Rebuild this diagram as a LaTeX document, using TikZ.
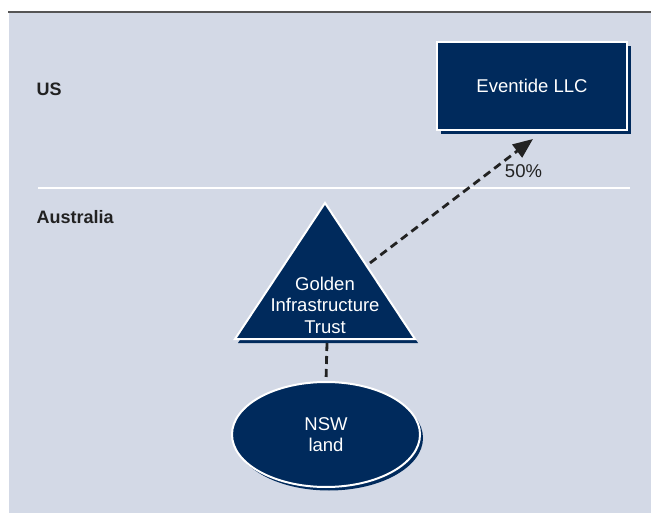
\documentclass[tikz,border=0pt]{standalone}
\usepackage{fontspec}
\setmainfont{Liberation Sans}
\usetikzlibrary{arrows.meta,shapes.geometric}
\definecolor{navy}{HTML}{002A5C}
\definecolor{panel}{HTML}{D3D9E6}
\definecolor{topline}{HTML}{555555}
\definecolor{ink}{HTML}{222222}
\tikzset{
  shapebox/.style={fill=navy, draw=white, line width=2pt},
  shadowfill/.style={fill=navy, draw=none},
  wtext/.style={text=white, align=center, font=\fontsize{18.5}{21.5}\selectfont},
  regionlabel/.style={anchor=base west, text=ink, font=\bfseries\fontsize{18}{21.5}\selectfont, inner sep=0pt},
  dashline/.style={draw=ink, line width=2.8pt, dash pattern=on 8pt off 5pt},
}
\begin{document}
\begin{tikzpicture}[x=1pt,y=-1pt]
\useasboundingbox (0,0) rectangle (651,513);
% panel
\fill[panel] (9,12) rectangle (651,513);
\draw[topline, line width=1.6pt] (8,12) -- (651,12);
% divider
\draw[white, line width=2.6pt] (38,188) -- (630,188);
% region labels
\node[regionlabel] (us) at (36.5,96) {US};
\node[regionlabel] (au) at (36.5,224) {Australia};
% Eventide box
\fill[shadowfill] (441,46) rectangle (631,134);
\node[shapebox, wtext, minimum width=190pt, minimum height=88pt, inner sep=0pt] (evt) at (532,86) {Eventide LLC};
% triangle
\fill[shadowfill] (328,207) -- (418,343) -- (238,343) -- cycle;
\coordinate (tA) at (325,203);
\coordinate (tB) at (415,339);
\coordinate (tC) at (235,339);
\draw[shapebox, line join=miter] (tA) -- (tB) -- (tC) -- cycle;
\node[wtext, inner sep=0pt] (git) at (325,305) {Golden\\Infrastructure\\Trust};
\coordinate (gitbase) at (327,343);
\coordinate (gitedge) at (370,263);
% ellipse
\fill[shadowfill] (329,438) ellipse [x radius=94, y radius=52.5];
\node[shapebox, wtext, ellipse, minimum width=188pt, minimum height=105pt, inner sep=0pt] (nsw) at (326,434.5) {NSW\\land};
% connectors
\draw[dashline] (gitbase) -- (nsw.north);
\coordinate (arrowtip) at (533,139);
\draw[dashline, -{Triangle[length=20pt,width=16pt]}] (gitedge) -- (arrowtip);
\node[text=ink, font=\fontsize{18.5}{21.5}\selectfont, inner sep=0pt] (pct) at (523.5,171.5) {50\%};
\end{tikzpicture}
\end{document}
